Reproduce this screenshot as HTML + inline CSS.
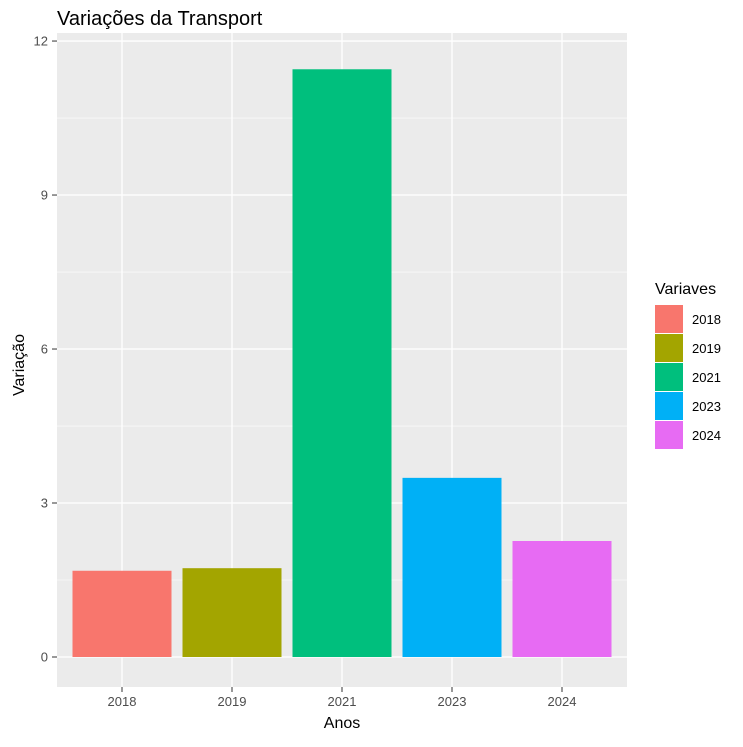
<!DOCTYPE html>
<html><head><meta charset="utf-8"><style>
body{margin:0;background:#fff;font-family:"Liberation Sans",sans-serif;}
</style></head><body>
<svg id="chart" width="743" height="742" xmlns="http://www.w3.org/2000/svg">
<rect width="743" height="742" fill="#fff"/>
<text x="57" y="25" font-size="20" fill="#000">Variações da Transport</text>
<rect x="57" y="33" width="570" height="654" fill="#ebebeb"/>
<g id="grid"></g><g id="bars"></g><g id="axes"></g><g id="legend"></g>
<text x="342" y="728" font-size="16" text-anchor="middle">Anos</text>
<text transform="translate(24,365) rotate(-90)" font-size="16" text-anchor="middle">Variação</text>
<text x="655" y="294" font-size="16">Variaves</text>
</svg>
<script>
const categories=["2018","2019","2021","2023","2024"];
const values=[1.68,1.73,11.45,3.49,2.26];
const colors=["#F8766D","#A3A500","#00BF7D","#00B0F6","#E76BF3"];
const yTicks=[0,3,6,9,12];
const NS="http://www.w3.org/2000/svg";
const y=v=>657-v*51.33;
const x=i=>122+i*110;
function mk(tag,attrs,parent,text){const e=document.createElementNS(NS,tag);for(const k in attrs)e.setAttribute(k,attrs[k]);if(text!==undefined)e.textContent=text;document.getElementById(parent).appendChild(e);return e;}
for(let i=0;i<yTicks.length-1;i++){const m=(yTicks[i]+yTicks[i+1])/2;const e=mk('line',{x1:57,x2:627,y1:y(m),y2:y(m),stroke:'#fff','stroke-width':0.6},'grid');

}
yTicks.forEach(t=>{const g=mk('line',{x1:57,x2:627,y1:y(t),y2:y(t),stroke:'#fff','stroke-width':1.3},'grid');


mk('line',{x1:52,x2:57,y1:y(t),y2:y(t),stroke:'#333','stroke-width':1},'axes');
const l=mk('text',{x:48,y:y(t)+4.5,'font-size':13,fill:'#4d4d4d','text-anchor':'end'},'axes',String(t));

});
categories.forEach((c,i)=>{const g=mk('line',{x1:x(i),x2:x(i),y1:33,y2:687,stroke:'#fff','stroke-width':1.3},'grid');


const b=mk('rect',{x:x(i)-49.5,width:99,y:y(values[i]),height:y(0)-y(values[i]),fill:colors[i]},'bars');


mk('line',{x1:x(i),x2:x(i),y1:687,y2:692,stroke:'#333','stroke-width':1},'axes');
const l=mk('text',{x:x(i),y:706,'font-size':13,fill:'#4d4d4d','text-anchor':'middle'},'axes',c);


const k=mk('rect',{x:655,y:305+i*29,width:28,height:28,fill:colors[i]},'legend');


const lt=mk('text',{x:692,y:324+i*29,'font-size':13,fill:'#000'},'legend',c);

});
</script>
</body></html>
